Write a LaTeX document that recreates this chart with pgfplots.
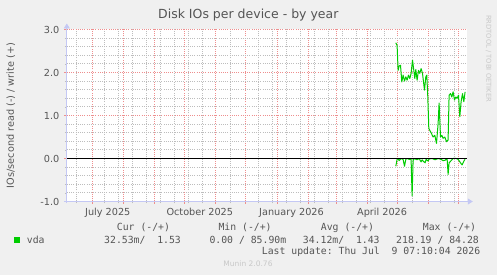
\documentclass[border=0pt]{standalone}
\usepackage{pgfplots}
\pgfplotsset{compat=1.18}
\usetikzlibrary{arrows.meta}
\usepackage{fontspec}
\setmainfont{DejaVu Sans}
\setmonofont{DejaVu Sans Mono}
\definecolor{bg}{HTML}{F0F0F0}
\definecolor{mgrid}{HTML}{EE8E8E}
\definecolor{sgrid}{HTML}{BDBDBD}
\definecolor{axcol}{HTML}{C4C8F4}
\definecolor{txt}{HTML}{555555}
\definecolor{wm}{HTML}{C8C8C8}
\definecolor{vda}{HTML}{00CC00}

\pgfplotstableread{
x y
303.7 2.69
305.0 2.63
306.0 2.05
307.0 2.15
308.4 2.17
309.7 1.78
311.0 1.94
312.4 1.80
313.7 1.90
315.0 1.82
316.4 1.94
317.7 1.86
319.0 1.98
320.4 2.29
321.7 2.05
322.7 1.86
323.7 2.07
325.0 1.82
326.4 2.05
327.7 1.98
329.0 2.09
330.4 1.98
331.4 1.78
332.4 1.59
333.7 1.90
334.7 1.94
335.7 1.43
336.7 0.70
339.4 0.58
341.0 0.50
342.7 0.54
344.4 0.35
346.0 0.81
347.0 1.29
348.4 0.50
349.7 0.54
351.0 0.47
352.7 0.50
354.4 0.39
356.0 0.43
357.0 1.47
358.4 1.51
359.7 1.43
361.0 1.55
362.4 1.36
363.7 1.43
365.0 1.40
366.4 1.47
367.7 0.97
369.0 1.32
370.4 1.51
371.7 1.32
373.0 1.55
}\writedata

\pgfplotstableread{
x y
303.7 -0.18
305.0 -0.02
306.0 0.00
307.0 -0.05
309.0 0.00
311.0 -0.02
312.4 -0.18
313.7 -0.02
315.0 0.00
317.0 -0.02
319.0 -0.02
320.0 -0.87
321.0 -0.05
322.0 0.00
325.0 -0.03
327.0 0.00
329.0 -0.08
330.0 -0.03
331.0 -0.06
333.0 -0.10
334.0 -0.02
336.0 -0.06
337.0 -0.01
340.0 0.00
343.0 -0.03
346.0 0.00
349.0 -0.02
351.0 -0.05
353.0 -0.04
355.0 0.00
356.0 -0.37
357.0 -0.10
359.0 -0.05
361.0 0.00
364.0 0.00
366.0 -0.02
369.0 -0.12
370.0 -0.15
372.0 -0.05
373.0 -0.02
}\readdata

\begin{document}
\begin{tikzpicture}[x=1pt,y=1pt]
\fill[bg] (0,0) rectangle (497,275);
\begin{axis}[
  at={(66.8pt,73.5pt)}, anchor=south west,
  scale only axis, width=400pt, height=172pt,
  xmin=-25.3, xmax=374.7, ymin=-1, ymax=3,
  axis background/.style={fill=white},
  axis lines*=left,
  axis line style={axcol, line width=0.8pt},
  x axis line style={-{Triangle[length=5pt,width=6pt]}, shorten >=-6pt, shorten <=-3pt},
  y axis line style={-{Triangle[length=5pt,width=6pt]}, shorten >=-6pt, shorten <=-2pt},
  xtick={0,31,62,92,123.4,153.7,185,216,244.4,275,305.4,336,366},
  xticklabels={},
  minor xtick={-15.5,12.5,26.5,40.5,54.5,68.5,82.5,96.5,110.5,138.5,166.5,180.5,194.5,208.5,222.5,236.5,250.5,264.5,278.5,292.5,320.5,348.5,362.5},
  ytick={-1,0,1,2,3},
  yticklabels={{-1.0},{0.0},{1.0},{2.0},{3.0}},
  minor ytick={-0.8,-0.6,-0.4,-0.2,0.2,0.4,0.6,0.8,1.2,1.4,1.6,1.8,2.2,2.4,2.6,2.8},
  xmajorgrids=true, xminorgrids=true, ymajorgrids=true, yminorgrids=true,
  major grid style={mgrid, line width=0.9pt, dash pattern=on 1pt off 1.2pt},
  minor grid style={sgrid, line width=0.9pt, dash pattern=on 1pt off 1.2pt},
  tick align=outside,
  major tick length=2.5pt, minor tick length=2pt,
  major tick style={mgrid, line width=0.7pt},
  minor tick style={sgrid, line width=0.7pt},
  yticklabel style={font=\fontsize{9.7}{11}\selectfont, text=txt, anchor=east, xshift=-1.5pt},
  extra x ticks={15.7,107.7,199.4,290},
  extra x tick labels={July 2025, October 2025, January 2026, April 2026},
  extra x tick style={grid=none, major tick length=0pt,
    xticklabel style={font=\fontsize{9.7}{11}\selectfont, text=txt, anchor=base, yshift=-14.5pt}},
  title={Disk IOs per device - by year},
  title style={font=\fontsize{12.5}{14}\selectfont, text=txt, at={(rel axis cs:0.5,1)}, anchor=base, xshift=-18.5pt, yshift=5.3pt, inner sep=0pt},
  ylabel={IOs/second read (-) / write (+)},
  ylabel style={font=\fontsize{9.7}{11}\selectfont, text=txt, at={(axis description cs:-0.14,0.5)}, anchor=center, inner sep=0pt},
  clip=false,
]
\addplot[vda, line width=1pt, line join=round] table[x=x,y=y] {\readdata};
\addplot[black, line width=1pt] coordinates {(-25.3,0) (374.7,0)};
\addplot[vda, line width=1pt, line join=round] table[x=x,y=y] {\writedata};
\end{axis}
% legend and annotations
\begin{scope}[every node/.style={inner sep=0pt, text=txt}]
\node[anchor=base west, font=\ttfamily\fontsize{9.8}{11}\selectfont] at (116.7,44.5) {Cur (-/+)};
\node[anchor=base west, font=\ttfamily\fontsize{9.8}{11}\selectfont] at (218.3,44.5) {Min (-/+)};
\node[anchor=base west, font=\ttfamily\fontsize{9.8}{11}\selectfont] at (320.7,44.5) {Avg (-/+)};
\node[anchor=base west, font=\ttfamily\fontsize{9.8}{11}\selectfont] at (422.7,44.5) {Max (-/+)};
\fill[vda] (14,31.8) rectangle (20,37.8);
\node[anchor=base west, font=\ttfamily\fontsize{9.8}{11}\selectfont] at (26.7,31.5) {vda};
\node[anchor=base west, font=\ttfamily\fontsize{9.8}{11}\selectfont] at (104,31.5) {32.53m/\ \ 1.53};
\node[anchor=base west, font=\ttfamily\fontsize{9.8}{11}\selectfont] at (209.3,31.5) {0.00 / 85.90m};
\node[anchor=base west, font=\ttfamily\fontsize{9.8}{11}\selectfont] at (302.7,31.5) {34.12m/\ \ 1.43};
\node[anchor=base west, font=\ttfamily\fontsize{9.8}{11}\selectfont] at (396,31.5) {218.19 / 84.28};
\node[anchor=base west, font=\ttfamily\fontsize{9.8}{11}\selectfont] at (261.7,20) {Last update: Thu Jul\ \ 9 07:10:04 2026};
\node[anchor=base, font=\fontsize{7.5}{9}\selectfont, text=wm] at (248,8.5) {Munin 2.0.76};
\node[anchor=north west, rotate=-90, font=\fontsize{6.75}{8}\selectfont, text=wm] at (491.5,260) {RRDTOOL / TOBI OETIKER};
\end{scope}
\end{tikzpicture}
\end{document}
